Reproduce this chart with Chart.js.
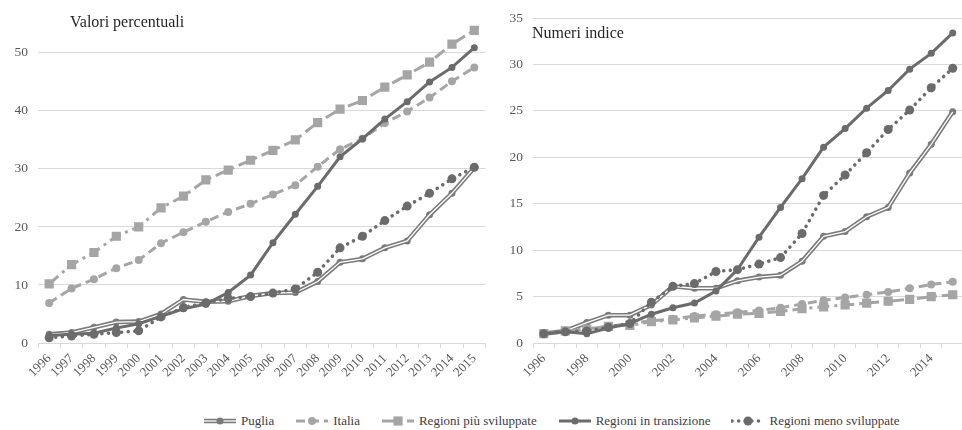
<!DOCTYPE html>
<html lang="it">
<head>
<meta charset="utf-8">
<script src="https://cdn.jsdelivr.net/npm/chart.js@4.4.1/dist/chart.umd.min.js"></script>
<style>
  html, body { margin: 0; padding: 0; background: #fff; }
  #wrap { position: relative; width: 962px; height: 430px; overflow: hidden; font-family: 'Liberation Serif', serif; color: #404040; }
  #left { position: absolute; left: 0; top: 0; }
  #right { position: absolute; left: 492px; top: 0; }
  .titolo { position: absolute; font-size: 16px; color: #262626; white-space: nowrap; }
  #legenda { position: absolute; top: 413px; left: 203px; display: flex; align-items: center; font-size: 13px; color: #404040; white-space: nowrap; }
  .voce { display: flex; align-items: center; margin-right: 21px; }
  .voce canvas { margin-right: 4px; }
</style>
</head>
<body>
<div id="wrap">
  <canvas id="left" width="492" height="392"></canvas>
  <canvas id="right" width="478" height="392"></canvas>
  <div class="titolo" style="left:70px; top:13px;">Valori percentuali</div>
  <div class="titolo" style="left:532px; top:24px;">Numeri indice</div>
  <div id="legenda"></div>
</div>
<script>
// anni
const anni = ['1996','1997','1998','1999','2000','2001','2002','2003','2004','2005',
              '2006','2007','2008','2009','2010','2011','2012','2013','2014','2015'];

// Valori percentuali
const pugliaPerc     = [1.5, 1.8, 2.7, 3.6, 3.7, 5.0, 7.5, 7.1, 7.2, 8.1, 8.6, 8.7, 10.6, 13.9, 14.5, 16.4, 17.6, 22.1, 25.8, 30.2];
const italiaPerc     = [6.9, 9.4, 11.0, 12.9, 14.3, 17.2, 19.1, 20.9, 22.6, 24.0, 25.6, 27.2, 30.4, 33.4, 35.2, 37.9, 39.9, 42.3, 45.1, 47.5];
const piuSvilPerc    = [10.2, 13.5, 15.6, 18.4, 20.0, 23.3, 25.3, 28.1, 29.8, 31.5, 33.2, 35.0, 38.0, 40.3, 41.8, 44.1, 46.2, 48.4, 51.5, 53.9];
const transizPerc    = [1.3, 1.5, 1.7, 2.6, 3.3, 4.6, 5.9, 6.7, 8.7, 11.7, 17.3, 22.2, 27.0, 32.1, 35.2, 38.6, 41.6, 45.0, 47.5, 50.9];
const menoSvilPerc   = [0.9, 1.2, 1.5, 1.8, 2.1, 4.5, 6.1, 6.9, 7.7, 8.0, 8.6, 9.3, 12.2, 16.4, 18.4, 21.1, 23.6, 25.8, 28.3, 30.3];

// Numeri indice
const pugliaIdx      = [1.0, 1.3, 2.2, 3.0, 3.0, 4.1, 6.1, 5.9, 5.9, 6.7, 7.1, 7.3, 8.8, 11.5, 12.0, 13.6, 14.6, 18.3, 21.4, 24.9];
const italiaIdx      = [1.0, 1.2, 1.5, 1.8, 2.1, 2.4, 2.6, 2.9, 3.1, 3.3, 3.5, 3.8, 4.2, 4.6, 4.9, 5.2, 5.5, 5.9, 6.3, 6.6];
const piuSvilIdx     = [1.0, 1.3, 1.5, 1.8, 1.9, 2.3, 2.5, 2.7, 2.9, 3.1, 3.2, 3.4, 3.7, 3.9, 4.1, 4.3, 4.5, 4.7, 5.0, 5.2];
const transizIdx     = [1.0, 1.2, 1.0, 1.6, 2.1, 3.1, 3.8, 4.3, 5.6, 7.9, 11.4, 14.6, 17.7, 21.1, 23.1, 25.3, 27.2, 29.5, 31.2, 33.4];
const menoSvilIdx    = [1.0, 1.2, 1.3, 1.7, 2.1, 4.4, 6.1, 6.4, 7.7, 7.9, 8.5, 9.2, 11.8, 15.9, 18.1, 20.5, 23.0, 25.1, 27.5, 29.6];

const assiLeft  = { max: 56, step: 10, labels: [0, 10, 20, 30, 40, 50] };
const assiRight = { max: 35, step: 5,  labels: [0, 5, 10, 15, 20, 25, 30, 35] };

const GRIGIO_CHIARO = '#a5a5a5';
const GRIGIO_SCURO = '#6b6b6b';
const GRIGIO_PUGLIA = '#7a7a7a';
const FONT = 'Liberation Serif';

Chart.defaults.font.family = FONT;

// stili delle serie (usati anche per la legenda)
const stili = [
    { nome: 'Puglia', colore: GRIGIO_PUGLIA, width: 4.5, dash: [], punto: 'circle', r: 3.5, doppia: true },
    { nome: 'Italia', colore: GRIGIO_CHIARO, width: 3, dash: [9, 5], punto: 'circle', r: 4 },
    { nome: 'Regioni più sviluppate', colore: GRIGIO_CHIARO, width: 3, dash: [12, 5, 3, 5], punto: 'rect', r: 6.5 },
    { nome: 'Regioni in transizione', colore: GRIGIO_SCURO, width: 3, dash: [], punto: 'circle', r: 3.5 },
    { nome: 'Regioni meno sviluppate', colore: GRIGIO_SCURO, width: 3.5, dash: [0.1, 6.5], punto: 'circle', r: 4.5, cap: 'round' }
];

function costruisciDatasets(serie) {
    const ds = [];
    serie.forEach((valori, i) => {
        const s = stili[i];
        const ordine = 10 - i * 2;
        ds.push({
            label: s.nome,
            data: valori,
            borderColor: s.colore,
            backgroundColor: s.colore,
            borderWidth: s.width,
            borderDash: s.dash,
            borderCapStyle: s.cap || 'butt',
            pointStyle: s.punto,
            pointRadius: s.r,
            pointBorderWidth: 0,
            pointBackgroundColor: s.colore,
            tension: 0,
            order: ordine
        });
        if (s.doppia) {
            // linea bianca interna per la linea doppia
            ds.push({
                label: s.nome + ' interna',
                data: valori,
                borderColor: '#ffffff',
                borderWidth: 1.3,
                pointRadius: 0,
                tension: 0,
                order: ordine - 1
            });
        }
    });
    return ds;
}

function creaGrafico(id, serie, assi, yWidth, xHeight, padTop, soloPari) {
    const ctx = document.getElementById(id).getContext('2d');
    return new Chart(ctx, {
        type: 'line',
        data: { labels: anni, datasets: costruisciDatasets(serie) },
        options: {
            responsive: false,
            animation: false,
            layout: { padding: { top: padTop, right: 0, bottom: 0, left: 0 } },
            plugins: { legend: { display: false }, tooltip: { enabled: false } },
            scales: {
                x: {
                    offset: true,
                    border: { display: true, color: '#d9d9d9', width: 1 },
                    grid: { offset: true, drawOnChartArea: false, drawTicks: true, tickLength: 5, color: '#d9d9d9' },
                    ticks: {
                        autoSkip: false,
                        minRotation: 45,
                        maxRotation: 45,
                        padding: 3,
                        color: '#595959',
                        font: { family: FONT, size: 13 },
                        callback: function(val, i) {
                            if (soloPari && i % 2 !== 0) return '';
                            return anni[i];
                        }
                    },
                    afterFit: function(scale) { scale.height = xHeight; }
                },
                y: {
                    min: 0,
                    max: assi.max,
                    border: { display: false },
                    grid: { color: '#d9d9d9', drawTicks: false, lineWidth: 1 },
                    ticks: {
                        stepSize: assi.step,
                        padding: 10,
                        color: '#595959',
                        font: { family: FONT, size: 13.5 }
                    },
                    afterBuildTicks: function(scale) {
                        scale.ticks = assi.labels.map(v => ({ value: v }));
                    },
                    afterFit: function(scale) { scale.width = yWidth; }
                }
            }
        }
    });
}

creaGrafico('left', [pugliaPerc, italiaPerc, piuSvilPerc, transizPerc, menoSvilPerc], assiLeft, 38, 49, 11.5, false);
creaGrafico('right', [pugliaIdx, italiaIdx, piuSvilIdx, transizIdx, menoSvilIdx], assiRight, 41, 49, 18, true);

// Legenda
const legenda = document.getElementById('legenda');
stili.forEach(s => {
    const voce = document.createElement('div');
    voce.className = 'voce';
    const c = document.createElement('canvas');
    c.width = 34; c.height = 16;
    const g = c.getContext('2d');
    g.strokeStyle = s.colore;
    g.lineWidth = s.width;
    g.setLineDash(s.dash);
    g.lineCap = s.cap || 'butt';
    g.beginPath(); g.moveTo(1, 8); g.lineTo(33, 8); g.stroke();
    g.setLineDash([]);
    if (s.doppia) {
        g.strokeStyle = '#fff'; g.lineWidth = 1.3;
        g.beginPath(); g.moveTo(1, 8); g.lineTo(33, 8); g.stroke();
    }
    g.fillStyle = s.colore;
    if (s.punto === 'rect') {
        const lato = s.r * Math.SQRT2;
        g.fillRect(17 - lato / 2, 8 - lato / 2, lato, lato);
    } else {
        g.beginPath(); g.arc(17, 8, s.r, 0, Math.PI * 2); g.fill();
    }
    const t = document.createElement('span');
    t.textContent = s.nome;
    voce.appendChild(c);
    voce.appendChild(t);
    legenda.appendChild(voce);
});
</script>
</body>
</html>
